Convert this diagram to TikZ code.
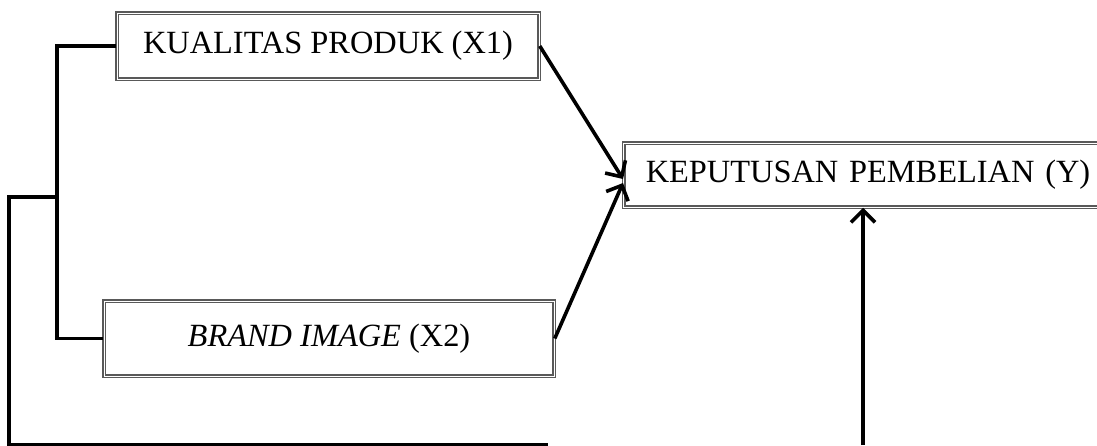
\documentclass[tikz,border=0pt]{standalone}
\usepackage{fontspec}
\setmainfont{Liberation Serif}
\usetikzlibrary{arrows.meta}

\tikzstyle{box}=[draw=black!65, double, double distance=0.5pt, line width=0.75pt, inner sep=0pt, font=\fontsize{16.2}{19}\selectfont]
\tikzstyle{line}=[line width=1.8pt]
\tikzstyle{arrow}=[line width=1.8pt, -{Straight Barb[length=6pt, width=12pt]}]

\begin{document}
\begin{tikzpicture}[x=0.5pt, y=-0.5pt]
      \clip (0, 0) rectangle (1097, 445);
      \node[box, minimum width=211pt, minimum height=33pt] (x1) at (328, 46) {KUALITAS PRODUK (X1)};
      \node[box, minimum width=225pt, minimum height=37.5pt] (x2) at (329, 338.5) {\textit{BRAND IMAGE} (X2)};
      \node[box, anchor=west, text width=240pt, inner xsep=11pt, minimum height=32pt, align=left] (y) at (623, 175) {KEPUTUSAN PEMBELIAN (Y)};

      \coordinate (join) at (57, 197);
      \coordinate (corner) at (9, 445);
      \coordinate (tail) at (548, 445);
      \coordinate (foot) at (863, 445);

      \draw[line] (x1.west) -| (join) |- (x2.west);
      \draw[line] (join) -| (corner) -- (tail);
      \draw[arrow] (x1.east) to ([yshift=-2pt]y.west);
      \draw[arrow] (x2.east) to ([yshift=-4pt]y.west);
      \draw[arrow] (foot) to (foot |- y.south);
    \end{tikzpicture}
\end{document}
